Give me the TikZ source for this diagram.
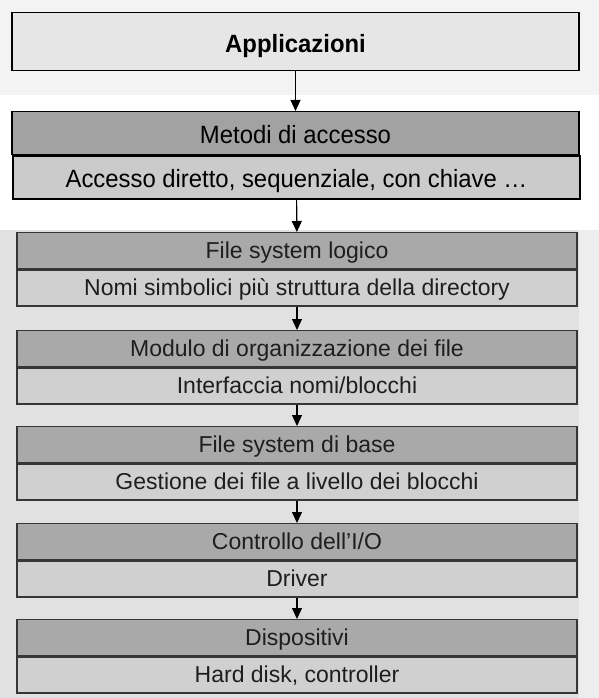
\documentclass[tikz,border=0pt]{standalone}
\usepackage{fontspec}
\setmainfont{Liberation Sans}
\newfontfamily\topfont{Liberation Sans}[FakeStretch=0.955]
\usetikzlibrary{positioning,arrows.meta}
\definecolor{bandgray}{HTML}{F3F3F3}
\definecolor{scangray}{HTML}{E1E1E1}
\definecolor{edgegray}{HTML}{EDEDED}
\definecolor{appgray}{HTML}{E6E6E6}
\definecolor{metdark}{HTML}{A2A2A2}
\definecolor{metlight}{HTML}{CBCBCB}
\definecolor{lvdark}{HTML}{A9A9A9}
\definecolor{lvlight}{HTML}{D0D0D0}
\definecolor{lvedge}{HTML}{363636}
\definecolor{lvtext}{HTML}{1E1E1E}
\tikzset{
topbox/.style={draw=black,line width=1.3pt,inner sep=0pt,minimum width=567pt,text height=21pt,text depth=0pt,font=\topfont\fontsize{25}{29}\selectfont},
lvbox/.style={draw=lvedge,line width=1.3pt,inner sep=0pt,minimum width=560pt,minimum height=36pt,text height=16pt,text depth=0pt,text=lvtext,font=\fontsize{23}{27}\selectfont},
arr/.style={-{Triangle[length=11pt,width=10pt]},line width=1.1pt}
}
\begin{document}
\begin{tikzpicture}[x=1pt,y=-1pt]
\useasboundingbox(0,0)rectangle(599,698);
\fill[bandgray](0,0)rectangle(599,95);
\fill[scangray](0,230)rectangle(579,698);
\fill[edgegray](579,230)rectangle(599,698);
\node[topbox,fill=appgray,minimum height=58pt,font=\topfont\fontsize{25}{29}\selectfont\bfseries,anchor=north](app)at(295.5,12){Applicazioni};
\node[topbox,fill=metdark,minimum height=43pt,anchor=north](met)at(295.5,111){Metodi di accesso};
\node[topbox,fill=metlight,minimum height=43pt,below=0pt of met,xshift=1pt](acc){Accesso diretto, sequenziale, con chiave …};
\draw[arr](app)--(met);
\foreach \i/\yt/\ta/\tb in {1/232/{File system logico}/{Nomi simbolici più struttura della directory},2/330/{Modulo di organizzazione dei file}/{Interfaccia nomi/blocchi},3/426/{File system di base}/{Gestione dei file a livello dei blocchi},4/523/{Controllo dell'I/O}/{Driver},5/619/{Dispositivi}/{Hard disk, controller}}{
\node[lvbox,fill=lvdark,anchor=north](lv\i)at(297,\yt){\ta};
\node[lvbox,fill=lvlight,below=0pt of lv\i](sub\i){\tb};
}
\draw[arr](acc)--(lv1);
\foreach \i/\j in {1/2,2/3,3/4,4/5}{\draw[arr](sub\i)--(lv\j);}
\end{tikzpicture}
\end{document}
